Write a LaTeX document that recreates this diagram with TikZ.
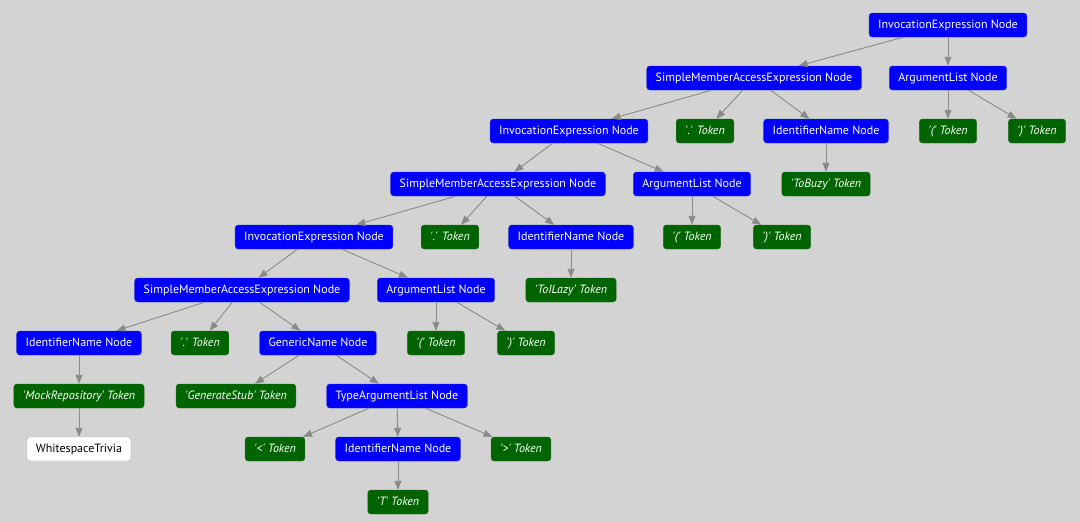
\documentclass[tikz,border=0pt]{standalone}
\usepackage{fontspec}
\setmainfont{PT Sans}
\usepackage{xcolor}
\usepackage{tikz}
\usetikzlibrary{arrows.meta}
\usetikzlibrary{positioning}

\definecolor{bggray}{HTML}{D3D3D3}
\definecolor{nodeblue}{HTML}{0000FF}
\definecolor{tokgreen}{HTML}{006400}
\definecolor{edgegray}{HTML}{8A8A8A}

\newcommand{\tok}[1]{\textit{\textquotesingle#1\textquotesingle{} Token}}

\begin{document}
\begin{tikzpicture}[x=1pt, y=-1pt,
    font=\fontsize{12}{14}\selectfont,
    box/.style={rounded corners=3pt, minimum height=24pt, inner xsep=9pt,
      inner ysep=0pt, text height=9pt, text depth=2.5pt},
    syn/.style={box, fill=nodeblue, draw=nodeblue!60!gray, text=white},
    tokbox/.style={box, fill=tokgreen, draw=tokgreen!70!gray, text=white},
    trivia/.style={box, fill=white, draw=gray!60, text=black},
    edge/.style={draw=edgegray, line width=0.9pt,
      -{Triangle[length=9pt, width=7pt]}}]

    \fill [bggray] (0, 0) rectangle (1080, 522); % background
    \useasboundingbox (0, 0) rectangle (1080, 522);

    % row 1 and 2
    \node [syn] (inv1) at (948, 25) {InvocationExpression Node};
    \node [syn] (sma1) at (754, 78) {SimpleMemberAccessExpression Node};
    \node [syn] (arg1) at (948, 78) {ArgumentList Node};
    % row 3
    \node [syn] (inv2) at (569, 131) {InvocationExpression Node};
    \node [tokbox] (dot1) at (705, 131) {\tok{.}};
    \node [syn] (id1) at (826, 131) {IdentifierName Node};
    \node [tokbox] (lp1) at (948, 131) {\tok{(}};
    \node [tokbox] (rp1) at (1037, 131) {\tok{)}};
    % row 4
    \node [syn] (sma2) at (498, 184) {SimpleMemberAccessExpression Node};
    \node [syn] (arg2) at (692, 184) {ArgumentList Node};
    \node [tokbox] (buzy) at (826, 184) {\tok{ToBuzy}};
    % row 5
    \node [syn] (inv3) at (314, 237) {InvocationExpression Node};
    \node [tokbox] (dot2) at (450, 237) {\tok{.}};
    \node [syn] (id2) at (571, 237) {IdentifierName Node};
    \node [tokbox] (lp2) at (692, 237) {\tok{(}};
    \node [tokbox] (rp2) at (782, 237) {\tok{)}};
    % row 6
    \node [syn] (sma3) at (242, 290) {SimpleMemberAccessExpression Node};
    \node [syn] (arg3) at (436, 290) {ArgumentList Node};
    \node [tokbox] (lazy) at (571, 290) {\tok{ToILazy}};
    % row 7
    \node [syn] (id3) at (79, 343) {IdentifierName Node};
    \node [tokbox] (dot3) at (200, 343) {\tok{.}};
    \node [syn] (gen) at (318, 343) {GenericName Node};
    \node [tokbox] (lp3) at (436, 343) {\tok{(}};
    \node [tokbox] (rp3) at (526, 343) {\tok{)}};
    % row 8
    \node [tokbox] (mock) at (79, 396) {\tok{MockRepository}};
    \node [tokbox] (stub) at (236, 396) {\tok{GenerateStub}};
    \node [syn] (targs) at (397, 396) {TypeArgumentList Node};
    % row 9 and 10
    \node [trivia] (ws) at (79, 449) {WhitespaceTrivia};
    \node [tokbox] (lt) at (275, 449) {\tok{<}};
    \node [syn] (id4) at (398, 449) {IdentifierName Node};
    \node [tokbox] (gt) at (521, 449) {\tok{>}};
    \node [tokbox] (tt) at (398, 502) {\tok{T}};

    % parent to child
    \foreach \a/\b in {inv1/sma1, inv1/arg1, sma1/inv2, sma1/dot1, sma1/id1,
      arg1/lp1, arg1/rp1, inv2/sma2, inv2/arg2, id1/buzy,
      sma2/inv3, sma2/dot2, sma2/id2, arg2/lp2, arg2/rp2,
      inv3/sma3, inv3/arg3, id2/lazy, sma3/id3, sma3/dot3, sma3/gen,
      arg3/lp3, arg3/rp3, id3/mock, gen/stub, gen/targs, mock/ws,
      targs/lt, targs/id4, targs/gt, id4/tt} {
      \draw [edge] (\a) -- (\b);
    }

  \end{tikzpicture}
\end{document}
